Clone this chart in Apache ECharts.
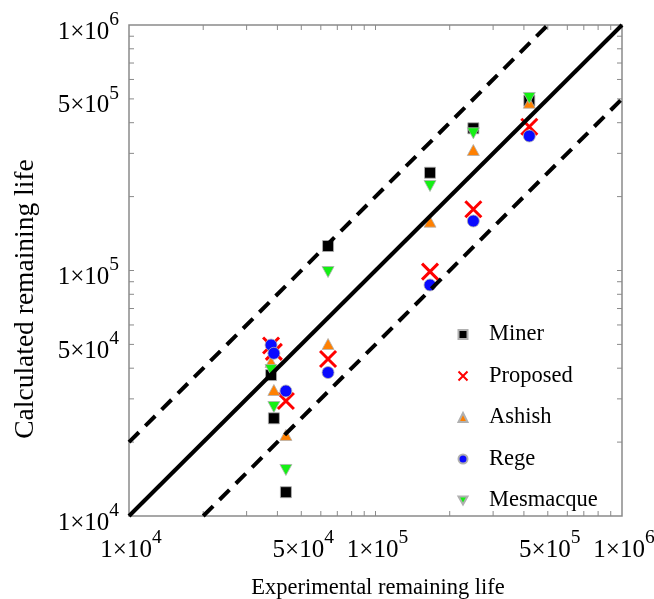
<!DOCTYPE html>
<html lang="en">
<head>
    <meta charset="UTF-8">
    <title>Remaining life</title>
    <script type="text/javascript" src="https://cdn.jsdelivr.net/npm/echarts@6/dist/echarts.min.js"></script>
</head>
<body style="margin: 0;">
<div id="container" style="width: 654px; height: 599px;"></div>
<script type="text/javascript">
    // experimental remaining life of each test
    var experimental = [37700, 38700, 43300, 64200, 166400, 249400, 420700];
    // calculated remaining life, one per method
    var miner = [37500, 25000, 12500, 125800, 250200, 379600, 491700];
    var proposed = [49500, 46600, 29400, 43600, 98900, 177600, 385300];
    var ashish = [42400, 32600, 21400, 50200, 158100, 309700, 482500];
    var rege = [49700, 46000, 32300, 38400, 87300, 159100, 353100];
    var mesmacque = [39300, 27800, 15400, 98600, 220900, 362200, 504300];

    var axisMin = 1e4, axisMax = 1e6;
    var labelValues = [1e4, 5e4, 1e5, 5e5, 1e6];
    var tickValues = [2e4, 3e4, 4e4, 5e4, 6e4, 7e4, 8e4, 9e4, 1e5,
        2e5, 3e5, 4e5, 5e5, 6e5, 7e5, 8e5, 9e5];

    var font = 'Liberation Serif';
    var gray = '#8a8a8a';

    function pairs(ys) {
        return experimental.map(function (x, i) { return [x, ys[i]]; });
    }

    function labelText(v) {
        var e = Math.floor(Math.log10(v) + 1e-9);
        var m = Math.round(v / Math.pow(10, e));
        return '{a|' + m + '\u00d710}{b|' + e + '}';
    }
    var rich = {
        a: {fontFamily: font, fontSize: 25, lineHeight: 35, verticalAlign: 'bottom', fill: '#000'},
        b: {fontFamily: font, fontSize: 19.5, lineHeight: 35, verticalAlign: 'top', fill: '#000'}
    };

    var dom = document.getElementById("container");
    var myChart = echarts.init(dom);

    var markBorder = {borderColor: '#b0b0b0', borderWidth: 0.8, opacity: 1};

    option = {
        animation: false,
        grid: {left: 129, top: 25, right: 32, bottom: 83, show: true, outerBoundsMode: 'none',
            containLabel: false, borderColor: gray, borderWidth: 1.5, backgroundColor: '#fff'},
        xAxis: {
            type: 'log', logBase: 10, min: axisMin, max: axisMax,
            axisLine: {show: false}, axisTick: {show: false},
            axisLabel: {show: false}, splitLine: {show: false}
        },
        yAxis: {
            type: 'log', logBase: 10, min: axisMin, max: axisMax,
            axisLine: {show: false}, axisTick: {show: false},
            axisLabel: {show: false}, splitLine: {show: false}
        },
        graphic: [{
            type: 'text', x: 26, y: 299, rotation: Math.PI / 2,
            style: {text: 'Calculated remaining life', font: '27.5px "Liberation Serif"',
                fill: '#000', align: 'center', verticalAlign: 'middle'}
        }, {
            type: 'text', x: 378, y: 588,
            style: {text: 'Experimental remaining life', font: '22.5px "Liberation Serif"',
                fill: '#000', align: 'center', verticalAlign: 'middle'}
        }],
        legend: {
            data: ['Miner', 'Proposed', 'Ashish', 'Rege', 'Mesmacque'],
            orient: 'vertical', left: 452.5, top: 318,
            itemWidth: 9, itemHeight: 9, itemGap: 18.5,
            textStyle: {fontFamily: font, fontSize: 22.5, lineHeight: 22, color: '#000',
                padding: [0, 0, 0, 16.5]}
        },
        series: [
            {type: 'line', silent: true, symbol: 'none', data: [[axisMin, axisMin], [axisMax, axisMax]],
                lineStyle: {color: '#000', width: 4}},
            {type: 'line', silent: true, symbol: 'none', data: [[axisMin, 2 * axisMin], [axisMax / 2, axisMax]],
                lineStyle: {color: '#000', width: 4, type: [14, 9]}},
            {type: 'line', silent: true, symbol: 'none', data: [[2 * axisMin, axisMin], [axisMax, axisMax / 2]],
                lineStyle: {color: '#000', width: 4, type: [14, 9]}},
            // minor ticks, all four sides
            {type: 'custom', silent: true, data: tickValues.map(function (v) { return [v, v]; }),
                renderItem: function (params, api) {
                    var v = api.value(0);
                    var b = api.coord([v, axisMin]), t = api.coord([v, axisMax]);
                    var l = api.coord([axisMin, v]), r = api.coord([axisMax, v]);
                    var st = {stroke: gray, lineWidth: 1};
                    return {type: 'group', children: [
                        {type: 'line', shape: {x1: b[0], y1: b[1], x2: b[0], y2: b[1] - 5}, style: st},
                        {type: 'line', shape: {x1: t[0], y1: t[1], x2: t[0], y2: t[1] + 5}, style: st},
                        {type: 'line', shape: {x1: l[0], y1: l[1], x2: l[0] + 5, y2: l[1]}, style: st},
                        {type: 'line', shape: {x1: r[0], y1: r[1], x2: r[0] - 5, y2: r[1]}, style: st}
                    ]};
                }},
            // tick labels
            {type: 'custom', silent: true, data: labelValues.map(function (v) { return [v, v]; }),
                renderItem: function (params, api) {
                    var v = api.value(0);
                    var b = api.coord([v, axisMin]), l = api.coord([axisMin, v]);
                    var txt = labelText(v);
                    return {type: 'group', children: [
                        {type: 'text', x: b[0] + 2, y: b[1] + 12,
                            style: {text: txt, rich: rich, align: 'center', verticalAlign: 'top'}},
                        {type: 'text', x: l[0] - 10, y: l[1] + 2,
                            style: {text: txt, rich: rich, align: 'right', verticalAlign: 'middle'}}
                    ]};
                }},
            {name: 'Miner', type: 'scatter', symbol: 'rect', symbolSize: 11, data: pairs(miner),
                itemStyle: Object.assign({color: '#000'}, markBorder)},
            {name: 'Proposed', type: 'scatter', symbol: 'path://M0,0L10,10M10,0L0,10', symbolSize: 16,
                data: pairs(proposed),
                itemStyle: {color: 'rgba(0,0,0,0)', borderColor: '#ff0000', borderWidth: 3, opacity: 1}},
            {name: 'Ashish', type: 'scatter', symbol: 'triangle', symbolSize: [12, 11], data: pairs(ashish),
                itemStyle: Object.assign({color: '#ff8000'}, markBorder)},
            {name: 'Rege', type: 'scatter', symbol: 'circle', symbolSize: 12, data: pairs(rege),
                itemStyle: Object.assign({color: '#0a0aff'}, markBorder)},
            {name: 'Mesmacque', type: 'scatter', symbol: 'path://M0,0L10,0L5,9Z', symbolSize: [12, 11],
                data: pairs(mesmacque),
                itemStyle: Object.assign({color: '#14f014'}, markBorder)}
        ]
    };
    myChart.setOption(option, true);
</script>
</body>
</html>
